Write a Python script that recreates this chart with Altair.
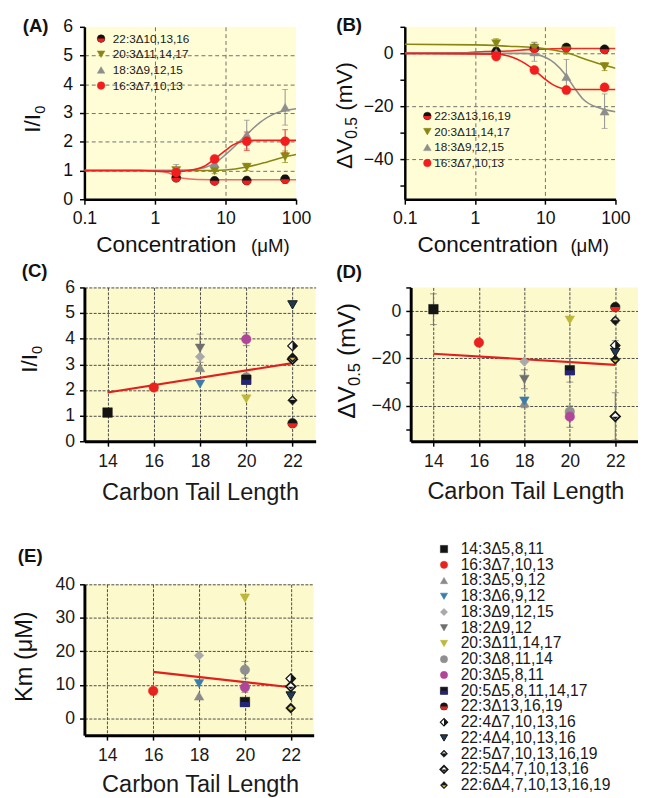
import altair as alt
import pandas as pd

FONT = "Liberation Sans"

# ---- marker pieces (custom symbol paths, unit box -1..1) ----
HALF_CIRCLE_BOTTOM = "M-1,0A1,1,0,0,0,1,0Z"
HALF_SQUARE_BOTTOM = "M-1,0L1,0L1,1L-1,1Z"
HALF_DIAMOND_RIGHT = "M0,-1L1,0L0,1Z"
INSET_DIAMOND_TOP = "M-0.6,-0.05L0.6,-0.05L0,-0.62Z"
INSET_DIAMOND_BOTTOM = "M-0.6,0.05L0.6,0.05L0,0.62Z"

# ================= Panels A and B =================
conc = [2, 7, 20, 70]
ab_keys = ["22:3", "20:3", "18:3", "16:3"]
a_legend_labels = ["22:3Δ10,13,16", "20:3Δ11,14,17", "18:3Δ9,12,15", "16:3Δ7,10,13"]
b_legend_labels = ["22:3Δ13,16,19", "20:3Δ11,14,17", "18:3Δ9,12,15", "16:3Δ7,10,13"]
ab_shape = ["circle", "triangle-down", "triangle-up", "circle"]
ab_fill = ["#111111", "#8a8614", "#8e8e8e", "#f21d1d"]
ab_half = [HALF_CIRCLE_BOTTOM, "", "", ""]
ab_half_fill = ["#f21d1d", "none", "none", "none"]
a_line_colors = ["#f36a64", "#8a8614", "#8e8e8e", "#f21d1d"]
b_line_colors = ["#ef2b25", "#8a8614", "#8e8e8e", "#f21d1d"]

a_val_22 = [0.75, 0.64, 0.65, 0.70]
a_err_22 = [0.06, 0.05, 0.06, 0.13]
a_val_20 = [1.0, 0.99, 1.12, 1.48]
a_err_20 = [0.05, 0.10, 0.12, 0.20]
a_val_18 = [1.04, 1.25, 2.25, 3.20]
a_err_18 = [0.17, 0.08, 0.50, 0.62]
a_val_16 = [0.93, 1.40, 2.02, 2.02]
a_err_16 = [0.08, 0.08, 0.32, 0.40]

a_fit_22_x = [0.1, 0.6, 1.0, 1.5, 2.0, 2.5, 4.0, 10, 100]
a_fit_22_y = [1.0, 1.0, 0.98, 0.93, 0.80, 0.73, 0.69, 0.68, 0.68]
a_fit_20_x = [0.1, 5, 10, 20, 39, 70, 100]
a_fit_20_y = [1.0, 1.0, 1.02, 1.12, 1.30, 1.48, 1.56]
a_fit_18_x = [0.1, 1, 3, 5, 7, 10, 15, 20, 30, 50, 70, 100]
a_fit_18_y = [1.0, 1.0, 1.02, 1.10, 1.25, 1.55, 1.95, 2.25, 2.65, 2.98, 3.08, 3.15]
a_fit_16_x = [0.1, 0.6, 1, 2, 3, 4, 5, 7, 10, 13, 18, 25, 100]
a_fit_16_y = [1.0, 1.0, 0.98, 0.97, 1.0, 1.06, 1.15, 1.40, 1.70, 1.90, 2.02, 2.05, 2.05]

b_val_22 = [0.6, 1.8, 2.2, 1.5]
b_err_22 = [1.5, 0.8, 0.6, 0.6]
b_val_20 = [3.7, 2.0, 1.0, -5.0]
b_err_20 = [1.8, 2.2, 1.2, 1.5]
b_val_18 = [0.3, 0.5, -8.8, -21.8]
b_err_18 = [0.8, 3.5, 6.5, 6.5]
b_val_16 = [-1.2, -6.3, -13.8, -12.8]
b_err_16 = [1.0, 0.5, 1.0, 0.5]

b_fit_22_x = [0.1, 0.7, 1.4, 3, 6.5, 10, 18, 100]
b_fit_22_y = [0.0, 0.2, 0.7, 0.9, 1.5, 1.6, 1.8, 1.8]
b_fit_20_x = [0.1, 1, 3, 7, 10, 20, 40, 70, 100]
b_fit_20_y = [3.4, 3.2, 2.7, 2.2, 1.7, 0.3, -2.5, -4.5, -5.6]
b_fit_18_x = [0.1, 5, 7, 10, 13.6, 20, 26, 35, 61, 100]
b_fit_18_y = [0.0, 0.0, -0.3, -1.5, -3.7, -8.5, -13.0, -17.4, -20.7, -22.0]
b_fit_16_x = [0.1, 2, 3, 4, 5, 7, 10, 12.3, 18, 25, 100]
b_fit_16_y = [0.0, -0.3, -1.0, -2.2, -3.6, -6.3, -9.8, -11.5, -13.3, -13.6, -13.6]

# ================= Panels C, D, E =================
all_series = ["14:3Δ5,8,11", "16:3Δ7,10,13", "18:3Δ5,9,12", "18:3Δ6,9,12",
              "18:3Δ9,12,15", "18:2Δ9,12", "20:3Δ11,14,17", "20:3Δ8,11,14",
              "20:3Δ5,8,11", "20:5Δ5,8,11,14,17", "22:3Δ13,16,19", "22:4Δ7,10,13,16",
              "22:4Δ4,10,13,16", "22:5Δ7,10,13,16,19", "22:5Δ4,7,10,13,16",
              "22:6Δ4,7,10,13,16,19"]
tail_len = [14, 16, 18, 18, 18, 18, 20, 20, 20, 20, 22, 22, 22, 22, 22, 22]
s_shape = ["square", "circle", "triangle-up", "triangle-down", "diamond", "triangle-down",
           "triangle-down", "circle", "circle", "square", "circle", "diamond",
           "triangle-down", "diamond", "diamond", "diamond"]
s_fill = ["#141414", "#e8231d", "#8a8a8a", "#3a7dab", "#a9a9a9", "#6f6f6f",
          "#bdb83c", "#8f8f8f", "#b0459a", "#151515", "#151515", "#ffffff",
          "#1f3a56", "#151515", "#ffffff", "#151515"]
s_stroke = ["#141414", "#e8231d", "#8a8a8a", "#3a7dab", "#a9a9a9", "#6f6f6f",
            "#bdb83c", "#8f8f8f", "#b0459a", "#151515", "#151515", "#151515",
            "#151515", "#151515", "#151515", "#151515"]
s_stroke_w = [0.5, 0.5, 0.5, 0.5, 0.5, 0.5, 0.5, 0.5, 0.5, 0.5, 0.5, 1.2, 1.0, 0.5, 1.8, 0.5]
s_half = ["", "", "", "", "", "", "", "", "", HALF_SQUARE_BOTTOM, HALF_CIRCLE_BOTTOM,
          HALF_DIAMOND_RIGHT, "", INSET_DIAMOND_TOP, INSET_DIAMOND_BOTTOM, INSET_DIAMOND_BOTTOM]
s_half_fill = ["none", "none", "none", "none", "none", "none", "none", "none", "none",
               "#24247a", "#e8231d", "#151515", "none", "#c8c8c8", "#151515", "#c9c040"]

c_idx = [0, 1, 2, 3, 4, 5, 6, 7, 8, 9, 10, 11, 12, 13, 14, 15]
c_val = [1.12, 2.1, 2.87, 2.23, 3.3, 3.63, 1.65, 2.5, 3.98, 2.4, 0.7, 3.72, 5.32, 1.6, 3.2, 3.27]
c_err = [0, 0, 0, 0, 0, 0.55, 0, 0, 0.25, 0.1, 0.05, 0, 0, 0, 0, 0]
c_fit_x = [14, 22]
c_fit_y = [1.9, 3.05]

d_idx = [0, 1, 2, 3, 4, 5, 6, 7, 8, 9, 10, 11, 12, 13, 14, 15]
d_val = [0.8, -13.3, -38.8, -38.0, -21.3, -28.8, -3.8, -42.5, -44.6, -25.0, 1.7, -14.5, -17.5, -4.0, -44.5, -20.5]
d_err = [6.5, 0, 2.0, 0, 0, 4.0, 0, 0, 4.5, 5.0, 0, 2.0, 0, 1.0, 10.0, 0]
d_fit_x = [14, 22]
d_fit_y = [-18.0, -22.7]

e_idx = [1, 2, 3, 4, 6, 7, 8, 9, 11, 12, 13, 14, 15]
e_val = [8.2, 6.7, 10.4, 18.8, 35.9, 14.5, 9.3, 4.9, 11.9, 6.7, 3.0, 9.5, 3.2]
e_err = [0, 0, 0, 0, 0, 2.5, 1.5, 0, 0, 0, 0, 0, 0]
e_fit_x = [16, 22]
e_fit_y = [13.9, 9.3]

# rotated y-axis titles: (text, font size, baseline x, start y) relative to each plot
a_ytitle = [("I/I", 23, -45, 108), ("0", 15, -40, 88.8)]
b_ytitle = [("ΔV", 23, -54, 145), ("0.5", 16, -49, 114.3), ("(mV)", 23, -54, 85.7)]
c_ytitle = [("I/I", 23, -48, 87), ("0", 15, -43, 67.8)]
d_ytitle = [("ΔV", 25, -57, 134), ("0.5", 17, -52, 100.6), ("(mV)", 25, -57, 70)]
e_ytitle = [("Km (μM)", 24, -54, 120)]
# x titles of A and B: (text, font size, left x, baseline y) relative to each plot
a_xtitle = [("Concentration", 23, 12, 230), ("(μM)", 19, 170, 230)]
b_xtitle = [("Concentration", 23, 13, 230), ("(μM)", 19, 169, 230)]


# ================= helpers =================
def xy_encoders(xscale, xaxis, yscale, yaxis):
    def X(f):
        return alt.X(f"{f}:Q", scale=xscale, axis=xaxis)

    def Y(f):
        return alt.Y(f"{f}:Q", scale=yscale, axis=yaxis)
    return X, Y


def data_layers(pts, errs, caps, lines, X, Y, size, lw, ecap):
    layers = []
    if lines:
        layers.append(
            alt.Chart(pd.DataFrame(lines)).mark_line(interpolate="monotone", strokeWidth=lw, clip=True)
            .encode(x=X("x"), y=Y("y"), stroke=alt.Stroke("color:N", scale=None), detail="key:N"))
    if errs:
        layers.append(
            alt.Chart(pd.DataFrame(errs)).mark_rule(strokeWidth=1)
            .encode(x=X("x"), y=Y("lo"), y2=alt.Y2("hi:Q"), stroke=alt.Stroke("ecolor:N", scale=None)))
        layers.append(
            alt.Chart(pd.DataFrame(caps)).mark_tick(orient="horizontal", size=ecap, thickness=1)
            .encode(x=X("x"), y=Y("cap"), color=alt.Color("ecolor:N", scale=None)))
    pdf = pd.DataFrame(pts)
    layers.append(
        alt.Chart(pdf).mark_point(filled=True, size=size, opacity=1)
        .encode(x=X("x"), y=Y("y"),
                shape=alt.Shape("shape:N", scale=None),
                fill=alt.Fill("fill:N", scale=None),
                stroke=alt.Stroke("stroke:N", scale=None),
                strokeWidth=alt.StrokeWidth("sw:Q", scale=None)))
    layers.append(
        alt.Chart(pdf).transform_filter("datum.half != ''")
        .mark_point(filled=True, size=size, opacity=1, strokeWidth=0)
        .encode(x=X("x"), y=Y("y"),
                shape=alt.Shape("half:N", scale=None),
                fill=alt.Fill("hfill:N", scale=None)))
    return layers


def label_layer(text, dx, dy):
    return alt.Chart(pd.DataFrame({"t": [text]})).mark_text(
        align="left", baseline="alphabetic", fontSize=19, fontWeight="bold", font=FONT, color="#111"
    ).encode(x=alt.value(dx), y=alt.value(dy), text="t:N")


def spacer_layer(dx, dy):
    return alt.Chart(pd.DataFrame({"t": [" "]})).mark_text(
        align="left", baseline="top", fontSize=4, font=FONT
    ).encode(x=alt.value(dx), y=alt.value(dy), text="t:N")


def text_parts(parts, angle=0):
    out = []
    for txt, fs, px, py in parts:
        kw = dict(align="left", baseline="alphabetic", fontSize=fs, font=FONT, color="#111")
        if angle:
            kw["angle"] = angle
        out.append(alt.Chart(pd.DataFrame({"t": [txt]})).mark_text(**kw)
                   .encode(x=alt.value(px), y=alt.value(py), text="t:N"))
    return out


def symbol_legend(df, sym_x, txt_x, y0, y1, size, fs, n):
    Yl = alt.Y("idx:Q", scale=alt.Scale(domain=[0, n - 1], range=[y0, y1], nice=False, zero=False), axis=None)
    pts = alt.Chart(df).mark_point(filled=True, size=size, opacity=1).encode(
        x=alt.value(sym_x), y=Yl,
        shape=alt.Shape("shape:N", scale=None),
        fill=alt.Fill("fill:N", scale=None),
        stroke=alt.Stroke("stroke:N", scale=None),
        strokeWidth=alt.StrokeWidth("sw:Q", scale=None))
    half = alt.Chart(df).transform_filter("datum.half != ''").mark_point(
        filled=True, size=size, opacity=1, strokeWidth=0).encode(
        x=alt.value(sym_x), y=Yl,
        shape=alt.Shape("half:N", scale=None),
        fill=alt.Fill("hfill:N", scale=None))
    txt = alt.Chart(df).mark_text(align="left", baseline="middle", fontSize=fs, font=FONT, color="#1a1a1a").encode(
        x=alt.value(txt_x), y=Yl, text="label:N")
    return [pts, half, txt]


AB_AX = dict(domainColor="#000", domainWidth=2.5, tickColor="#000", tickWidth=1.5, tickSize=5,
             labelFontSize=18, labelColor="#111", labelFont=FONT, gridColor="#6e6e6e", gridDash=[4, 3],
             gridWidth=1, labelOverlap=False, labelFlush=False)
CDE_AX = dict(domainColor="#000", domainWidth=3, tickColor="#000", tickWidth=1.5, tickSize=5,
              labelFontSize=18, labelColor="#1a1a1a", labelFont=FONT, titleFont=FONT, titleFontSize=24,
              titleFontWeight="normal", titleColor="#1a1a1a", gridColor="#4a4a4a", gridDash=[3, 1.5],
              gridWidth=1, labelOverlap=False, labelFlush=False)


def grid_if(test):
    return {"condition": {"test": test, "value": 1}, "value": 0}


def ab_panel(vals, errs, fit_x, fit_y, line_colors, legend_labels, yscale, yaxis, ytitle, xtitle,
             letter, lx, ly, leg_sym_x, leg_txt_x, leg_y0, leg_y1, width, height, spacer=None):
    pts, erows, caps, lines = [], [], [], []
    for k in range(4):
        for c, v, e in zip(conc, vals[k], errs[k]):
            pts.append(dict(x=c, y=v, shape=ab_shape[k], fill=ab_fill[k], stroke=ab_fill[k], sw=0.5,
                            half=ab_half[k], hfill=ab_half_fill[k]))
            if e > 0:
                erows.append(dict(x=c, lo=v - e, hi=v + e, ecolor=ab_fill[k]))
                caps.append(dict(x=c, cap=v - e, ecolor=ab_fill[k]))
                caps.append(dict(x=c, cap=v + e, ecolor=ab_fill[k]))
        for xx, yy in zip(fit_x[k], fit_y[k]):
            lines.append(dict(key=ab_keys[k], x=xx, y=yy, color=line_colors[k]))
    xaxis = alt.Axis(values=[0.1, 1, 10, 100], format="~g", title=None, labelPadding=6,
                     gridOpacity=grid_if("datum.value > 0.5 && datum.value < 50"), **AB_AX)
    X, Y = xy_encoders(alt.Scale(type="log", domain=[0.1, 100], nice=False), xaxis, yscale, yaxis)
    main = alt.layer(*data_layers(pts, erows, caps, lines, X, Y, 85, 1.6, 6))
    ldf = pd.DataFrame(dict(idx=list(range(4)), label=legend_labels, shape=ab_shape, fill=ab_fill,
                            stroke=ab_fill, sw=[0.5] * 4, half=ab_half, hfill=ab_half_fill))
    extra = [label_layer(letter, lx, ly)] + text_parts(ytitle, 270) + text_parts(xtitle)
    if spacer:
        extra.append(spacer_layer(*spacer))
    leg = alt.layer(*extra, *symbol_legend(ldf, leg_sym_x, leg_txt_x, leg_y0, leg_y1, 60, 12, 4))
    return alt.layer(main, leg).resolve_scale(y="independent").properties(
        width=width, height=height, view=alt.ViewBackground(fill="#fffdd6"))


def cde_panel(idx, vals, errs, fit_x, fit_y, yscale, yaxis, ytitle, xtitle_x, xtitle_y, letter, lx, ly,
              width, height, spacer=None):
    pts, erows, caps = [], [], []
    for i, v, e in zip(idx, vals, errs):
        x = tail_len[i]
        pts.append(dict(x=x, y=v, shape=s_shape[i], fill=s_fill[i], stroke=s_stroke[i], sw=s_stroke_w[i],
                        half=s_half[i], hfill=s_half_fill[i]))
        if e > 0:
            erows.append(dict(x=x, lo=v - e, hi=v + e, ecolor="#6a6a6a"))
            caps.append(dict(x=x, cap=v - e, ecolor="#6a6a6a"))
            caps.append(dict(x=x, cap=v + e, ecolor="#6a6a6a"))
    lines = [dict(key="fit", x=a, y=b, color="#e0201c") for a, b in zip(fit_x, fit_y)]
    xaxis = alt.Axis(values=[14, 16, 18, 20, 22], title="Carbon Tail Length", titleX=xtitle_x, titleY=xtitle_y,
                     titleAlign="center", titleBaseline="alphabetic", labelPadding=7, **CDE_AX)
    xscale = alt.Scale(domain=[13, 23], nice=False, zero=False)
    X, Y = xy_encoders(xscale, xaxis, yscale, yaxis)
    layers = data_layers(pts, erows, caps, lines, X, Y, 95, 2.2, 7)
    layers.append(label_layer(letter, lx, ly))
    layers += text_parts(ytitle, 270)
    if spacer:
        layers.append(spacer_layer(*spacer))
    return alt.layer(*layers).properties(width=width, height=height, view=alt.ViewBackground(fill="#fcf9cc"))


# ================= build panels =================
yaxis_a = alt.Axis(values=[0, 1, 2, 3, 4, 5, 6], title=None, labelPadding=7,
                   gridOpacity=grid_if("datum.value > 0 && datum.value < 6"), **AB_AX)
panel_a = ab_panel([a_val_22, a_val_20, a_val_18, a_val_16], [a_err_22, a_err_20, a_err_18, a_err_16],
                   [a_fit_22_x, a_fit_20_x, a_fit_18_x, a_fit_16_x],
                   [a_fit_22_y, a_fit_20_y, a_fit_18_y, a_fit_16_y], a_line_colors, a_legend_labels,
                   alt.Scale(domain=[0, 6], nice=False), yaxis_a, a_ytitle, a_xtitle, "(A)", -63, 5,
                   17, 29, 12, 60, 216, 176, spacer=(-72, 80))

yaxis_b = alt.Axis(values=[-50, -40, -30, -20, -10, 0, 10], title=None, labelPadding=7,
                   labelExpr="datum.value % 20 === 0 ? datum.label : ''",
                   gridOpacity=grid_if("datum.value % 20 === 0"), **AB_AX)
panel_b = ab_panel([b_val_22, b_val_20, b_val_18, b_val_16], [b_err_22, b_err_20, b_err_18, b_err_16],
                   [b_fit_22_x, b_fit_20_x, b_fit_18_x, b_fit_16_x],
                   [b_fit_22_y, b_fit_20_y, b_fit_18_y, b_fit_16_y], b_line_colors, b_legend_labels,
                   alt.Scale(domain=[-55, 10], nice=False, zero=False), yaxis_b, b_ytitle, b_xtitle,
                   "(B)", -70, 4, 23, 30, 91, 139, 215, 176)

yaxis_c = alt.Axis(values=[0, 1, 2, 3, 4, 5, 6], title=None, labelPadding=5,
                   gridOpacity=grid_if("datum.value > 0"), **CDE_AX)
panel_c = cde_panel(c_idx, c_val, c_err, c_fit_x, c_fit_y, alt.Scale(domain=[0, 6], nice=False), yaxis_c,
                    c_ytitle, 118, 59, "(C)", -64, -11, 236, 157, spacer=(-73, 70))

yaxis_d = alt.Axis(values=[-50, -40, -30, -20, -10, 0, 10], title=None, labelPadding=5,
                   labelExpr="datum.value % 20 === 0 ? datum.label : ''",
                   gridOpacity=grid_if("datum.value % 20 === 0"), **CDE_AX)
panel_d = cde_panel(d_idx, d_val, d_err, d_fit_x, d_fit_y, alt.Scale(domain=[-55, 10], nice=False, zero=False),
                    yaxis_d, d_ytitle, 117, 58, "(D)", -76, -10, 232, 157)

yaxis_e = alt.Axis(values=[0, 10, 20, 30, 40], title=None, labelPadding=5, **CDE_AX)
panel_e = cde_panel(e_idx, e_val, e_err, e_fit_x, e_fit_y, alt.Scale(domain=[-5, 40], nice=False, zero=False),
                    yaxis_e, e_ytitle, 118, 57, "(E)", -68, -23, 234, 154, spacer=(-78, 70))

big_leg_df = pd.DataFrame(dict(idx=list(range(16)), label=all_series, shape=s_shape, fill=s_fill,
                               stroke=s_stroke, sw=s_stroke_w, half=s_half, hfill=s_half_fill))
legend_chart = alt.layer(*symbol_legend(big_leg_df, 93, 110, -36, 205, 55, 16, 16)).properties(
    width=150, height=154)

row1 = alt.hconcat(panel_a, panel_b, spacing=111, bounds="flush")
row2 = alt.hconcat(panel_c, panel_d, spacing=97, bounds="flush")
row3 = alt.hconcat(panel_e, legend_chart, spacing=40, bounds="flush")

chart = alt.vconcat(alt.vconcat(row1, row2, spacing=5), row3, spacing=38)
chart = chart.properties(padding={"left": 0, "top": 0, "right": 0, "bottom": 0}).configure(
    font=FONT).configure_view(strokeWidth=0)

chart.save("out.html", embed_options={"renderer": "svg", "actions": False})
